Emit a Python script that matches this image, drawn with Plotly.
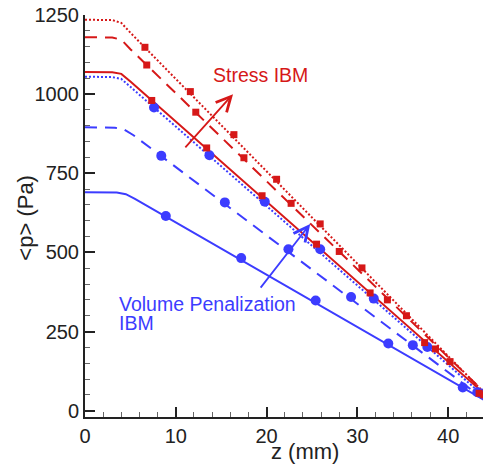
import plotly.graph_objects as go

# ---- data ----
# Line curves: z (mm) and <p> (Pa)
red_solid_z = [0, 3.0, 4.0, 5.0, 44.6]
red_solid_p = [1070, 1069, 1064, 1040, 38]
red_dash_z = [0, 3.0, 4.0, 5.0, 44.6]
red_dash_p = [1180, 1179, 1172, 1142, 41]
red_dot_z = [0, 3.0, 4.0, 5.0, 44.6]
red_dot_p = [1235, 1234, 1225, 1194, 38]

blue_solid_z = [0, 3.5, 4.5, 5.5, 44.6]
blue_solid_p = [690, 689, 684, 669, 23]
blue_dash_z = [0, 3.3, 4.3, 5.3, 44.6]
blue_dash_p = [895, 894, 888, 871, 22]
blue_dot_z = [0, 3.0, 4.0, 5.0, 44.6]
blue_dot_p = [1055, 1054, 1048, 1023, 29]

# Marker points
red_solid_mz = [7.35, 13.4, 19.5, 25.5, 31.4, 37.4, 43.4]
red_solid_mp = [980, 830, 679, 526, 372, 215, 55]
red_dash_mz = [6.8, 12.2, 17.5, 22.7, 28.0, 33.3, 38.6, 43.9]
red_dash_mp = [1092, 943, 799, 655, 503, 350, 195, 50]
red_dot_mz = [6.6, 11.6, 16.4, 21.1, 25.9, 30.5, 35.4, 40.2]
red_dot_mp = [1148, 1008, 872, 731, 590, 451, 300, 155]

blue_solid_mz = [8.9, 17.2, 25.4, 33.4, 41.6]
blue_solid_mp = [615, 482, 348, 212, 73]
blue_dash_mz = [8.4, 15.4, 22.4, 29.3, 36.1, 43.2]
blue_dash_mp = [805, 658, 510, 359, 207, 58]
blue_dot_mz = [7.6, 13.7, 19.8, 25.9, 31.8, 37.7, 43.7]
blue_dot_mp = [958, 807, 660, 510, 354, 201, 54]

x_ticks = [0, 10, 20, 30, 40]
y_ticks = [0, 250, 500, 750, 1000, 1250]

RED = "#d61818"
BLUE = "#3c3cff"
INK = "#222222"
FONT = "Liberation Sans, Arial, sans-serif"

fig = go.Figure()

def add_line(z, p, color, dash):
    fig.add_trace(go.Scatter(x=z, y=p, mode="lines",
                             line=dict(color=color, width=2, dash=dash),
                             showlegend=False, hoverinfo="skip"))

def add_markers(z, p, color, symbol, size):
    fig.add_trace(go.Scatter(x=z, y=p, mode="markers",
                             marker=dict(color=color, symbol=symbol, size=size,
                                         line=dict(width=0)),
                             showlegend=False))

add_line(blue_solid_z, blue_solid_p, BLUE, "solid")
add_line(blue_dash_z, blue_dash_p, BLUE, "12px,8px")
add_line(blue_dot_z, blue_dot_p, BLUE, "2px,2px")
add_line(red_solid_z, red_solid_p, RED, "solid")
add_line(red_dash_z, red_dash_p, RED, "12px,8px")
add_line(red_dot_z, red_dot_p, RED, "2px,2px")

add_markers(blue_solid_mz, blue_solid_mp, BLUE, "circle", 10)
add_markers(blue_dash_mz, blue_dash_mp, BLUE, "circle", 10)
add_markers(blue_dot_mz, blue_dot_mp, BLUE, "circle", 10)
add_markers(red_solid_mz, red_solid_mp, RED, "square", 7)
add_markers(red_dash_mz, red_dash_mp, RED, "square", 7)
add_markers(red_dot_mz, red_dot_mp, RED, "square", 7)

# Text labels and arrows
fig.add_annotation(x=19.3, y=1060, xref="x", yref="y", text="Stress IBM",
                   showarrow=False, xanchor="center", yanchor="middle",
                   font=dict(family=FONT, size=19.5, color=RED))
fig.add_annotation(x=16.3, y=1000, ax=11.0, ay=830, xref="x", yref="y",
                   axref="x", ayref="y", text="", showarrow=True,
                   font=dict(size=1), borderpad=0,
                   arrowhead=5, arrowsize=1.6, arrowwidth=1.8, arrowcolor=RED)

fig.add_annotation(x=3.57, y=338, xref="x", yref="y", text="Volume Penalization",
                   xanchor="left", yanchor="middle", showarrow=False,
                   font=dict(family=FONT, size=19.5, color=BLUE))
fig.add_annotation(x=3.57, y=277, xref="x", yref="y", text="IBM",
                   xanchor="left", yanchor="middle", showarrow=False,
                   font=dict(family=FONT, size=19.5, color=BLUE))
fig.add_annotation(x=24.8, y=590, ax=19.3, ay=387, xref="x", yref="y",
                   axref="x", ayref="y", text="", showarrow=True,
                   font=dict(size=1), borderpad=0,
                   arrowhead=5, arrowsize=1.6, arrowwidth=1.8, arrowcolor=BLUE)

# Axis titles
fig.add_annotation(x=0.543, y=-0.087, xref="paper", yref="paper", text="z (mm)",
                   showarrow=False, xanchor="center", yanchor="middle",
                   font=dict(family=FONT, size=22, color=INK))
fig.add_annotation(x=-0.149, y=0.495, xref="paper", yref="paper",
                   text="&lt;p&gt; (Pa)", textangle=-90,
                   showarrow=False, xanchor="center", yanchor="middle",
                   font=dict(family=FONT, size=22, color=INK))

axis_common = dict(showgrid=False, zeroline=False, showline=True,
                   linecolor=INK, linewidth=2, ticks="inside",
                   tickcolor=INK, tickwidth=2, ticklen=10, automargin=False,
                   ticklabeloverflow="allow",
                   tickfont=dict(family=FONT, size=20, color=INK))

fig.update_xaxes(range=[0, 44.6], tickvals=x_ticks,
                 minor=dict(dtick=2, ticks="inside", ticklen=5, tickwidth=1,
                            tickcolor="#666"),
                 **axis_common)
fig.update_yaxes(range=[-20, 1250], tickvals=y_ticks,
                 minor=dict(dtick=50, ticks="inside", ticklen=5, tickwidth=1,
                            tickcolor="#666"),
                 **axis_common)

# The page places the figure 8 px in from the top-left corner,
# so the figure is sized to end at the window edge.
fig.update_layout(width=483, height=459,
                  margin=dict(l=77, r=1, t=7, b=50, autoexpand=False),
                  plot_bgcolor="white", paper_bgcolor="white",
                  showlegend=False)

fig.write_html("out.html")
